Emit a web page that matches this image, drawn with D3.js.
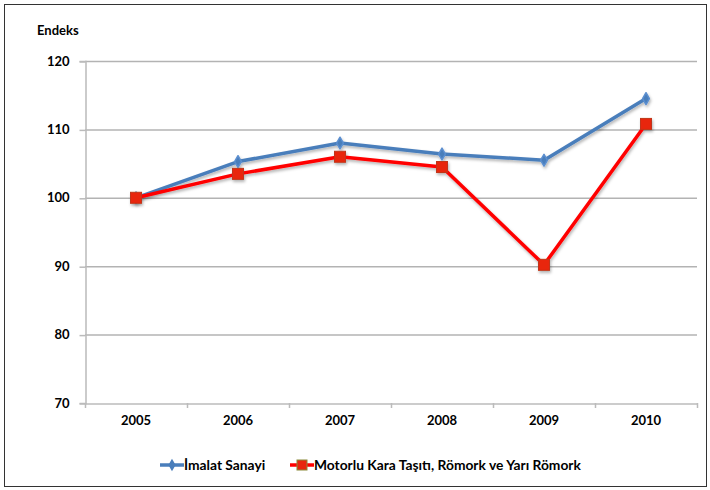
<!DOCTYPE html>
<html>
<head>
<meta charset="utf-8">
<script src="https://cdn.jsdelivr.net/npm/d3@7"></script>
<style>
  body { margin: 0; background: #fff; }
  text { font-family: Lato, "Noto Sans", sans-serif; font-weight: 700; fill: #000; }
</style>
</head>
<body>
<div id="chart"></div>
<script>
const years = ["2005", "2006", "2007", "2008", "2009", "2010"];
const imalat = [100, 105.3, 108.0, 106.4, 105.5, 114.5];
const motorlu = [100, 103.5, 106.0, 104.5, 90.2, 110.8];
const yTicks = [70, 80, 90, 100, 110, 120];
const seriesNames = ["İmalat Sanayi", "Motorlu Kara Taşıtı, Römork ve Yarı Römork"];

const width = 710, height = 490;
const margin = { top: 61, right: 13, bottom: 87, left: 85 };
const innerW = width - margin.left - margin.right;
const innerH = height - margin.top - margin.bottom;

const svg = d3.select("#chart").append("svg")
    .attr("width", width)
    .attr("height", height);

// soft shadow like the original office chart
const defs = svg.append("defs");
const f = defs.append("filter").attr("id", "shadow")
    .attr("x", "-20%").attr("y", "-20%").attr("width", "140%").attr("height", "140%");
f.append("feDropShadow").attr("dx", 1).attr("dy", 2).attr("stdDeviation", 1.5)
    .attr("flood-color", "#000").attr("flood-opacity", 0.3);

svg.append("rect")
    .attr("x", 4.5).attr("y", 4.5)
    .attr("width", 702).attr("height", 482)
    .attr("fill", "#fff").attr("stroke", "#333").attr("stroke-width", 1);

const g = svg.append("g").attr("transform", `translate(${margin.left},${margin.top})`);

const x = d3.scaleBand().domain(years).range([0, innerW]);
const y = d3.scaleLinear().domain([70, 120]).range([innerH, 0]);

// gridlines
g.append("g")
    .selectAll("line")
    .data(yTicks.filter(d => d > 70))
    .join("line")
    .attr("x1", 0).attr("x2", innerW)
    .attr("y1", d => y(d) + 0.5).attr("y2", d => y(d) + 0.5)
    .attr("stroke", "#b3b3b3").attr("stroke-width", 1.5);

// y axis
const yAxis = g.append("g")
    .attr("transform", "translate(0.5,0)")
    .call(d3.axisLeft(y).tickValues(yTicks).tickSize(6).tickPadding(10));
yAxis.select(".domain").attr("stroke", "#bbb").attr("stroke-width", 1.5);
yAxis.selectAll(".tick line").attr("stroke", "#bbb").attr("stroke-width", 1.5).attr("transform", "translate(0,0.5)");
yAxis.selectAll("text").style("font-size", "13px").style("font-family", "Lato, sans-serif").style("font-weight", 700);

// x axis
const xAxis = g.append("g")
    .attr("transform", `translate(0,${innerH + 0.5})`)
    .call(d3.axisBottom(x).tickSize(0).tickPadding(12));
xAxis.select(".domain").attr("stroke", "#bbb").attr("stroke-width", 1.5);
xAxis.selectAll("text").style("font-size", "13px").style("font-family", "Lato, sans-serif").style("font-weight", 700);
// boundary ticks between categories
g.append("g")
    .selectAll("line")
    .data(years.concat(["end"]))
    .join("line")
    .attr("x1", (d, i) => i * x.bandwidth() + 0.5)
    .attr("x2", (d, i) => i * x.bandwidth() + 0.5)
    .attr("y1", innerH).attr("y2", innerH + 5)
    .attr("stroke", "#bbb").attr("stroke-width", 1.5);

svg.append("text")
    .attr("x", 37).attr("y", 35)
    .style("font-size", "13px")
    .text("Endeks");

const cx = d => x(d) + x.bandwidth() / 2;
const line = d3.line().x((d, i) => cx(years[i])).y(d => y(d));

// red series
const redG = g.append("g").attr("filter", "url(#shadow)");
redG.append("path")
    .datum(motorlu)
    .attr("fill", "none")
    .attr("stroke", "#ff0000")
    .attr("stroke-width", 3.5)
    .attr("stroke-linejoin", "round")
    .attr("d", line);

// blue series
const blueG = g.append("g").attr("filter", "url(#shadow)");
blueG.append("path")
    .datum(imalat)
    .attr("fill", "none")
    .attr("stroke", "#4a7ebb")
    .attr("stroke-width", 3.5)
    .attr("stroke-linejoin", "round")
    .attr("d", line);
blueG.selectAll("path.m")
    .data(imalat)
    .join("path")
    .attr("class", "m")
    .attr("transform", (d, i) => `translate(${cx(years[i])},${y(d)})`)
    .attr("d", d3.symbol(d3.symbolDiamond, 40))
    .attr("fill", "#4a7ebb").attr("stroke", "#5b8fd0").attr("stroke-width", 1.5)
    .attr("stroke-linejoin", "round");

redG.selectAll("rect.m")
    .data(motorlu)
    .join("rect")
    .attr("class", "m")
    .attr("x", (d, i) => cx(years[i]) - 5.5)
    .attr("y", d => y(d) - 5.5)
    .attr("width", 11).attr("height", 11)
    .attr("fill", "#e8260f").attr("stroke", "#c0361a").attr("stroke-width", 1);
// bring red markers above blue line as in original
g.node().appendChild(redG.node());

// legend
const legend = svg.append("g").attr("transform", "translate(0,465)");
const lg1 = legend.append("g").attr("transform", "translate(160,0)");
lg1.append("line").attr("x1", 0).attr("x2", 24).attr("stroke", "#4a7ebb").attr("stroke-width", 3.5);
lg1.append("path").attr("transform", "translate(12,0)")
    .attr("d", d3.symbol(d3.symbolDiamond, 45)).attr("fill", "#4a7ebb");
lg1.append("text").attr("x", 24).attr("y", 5).style("font-size", "13.8px").text(seriesNames[0]);

const lg2 = legend.append("g").attr("transform", "translate(290,0)");
lg2.append("line").attr("x1", 0).attr("x2", 24).attr("stroke", "#ff0000").attr("stroke-width", 3.5);
lg2.append("rect").attr("x", 7).attr("y", -5).attr("width", 10).attr("height", 10)
    .attr("fill", "#e8260f").attr("stroke", "#8a8a3a").attr("stroke-width", 1);
lg2.append("text").attr("x", 24).attr("y", 5).style("font-size", "13.8px").text(seriesNames[1]);
</script>
</body>
</html>
